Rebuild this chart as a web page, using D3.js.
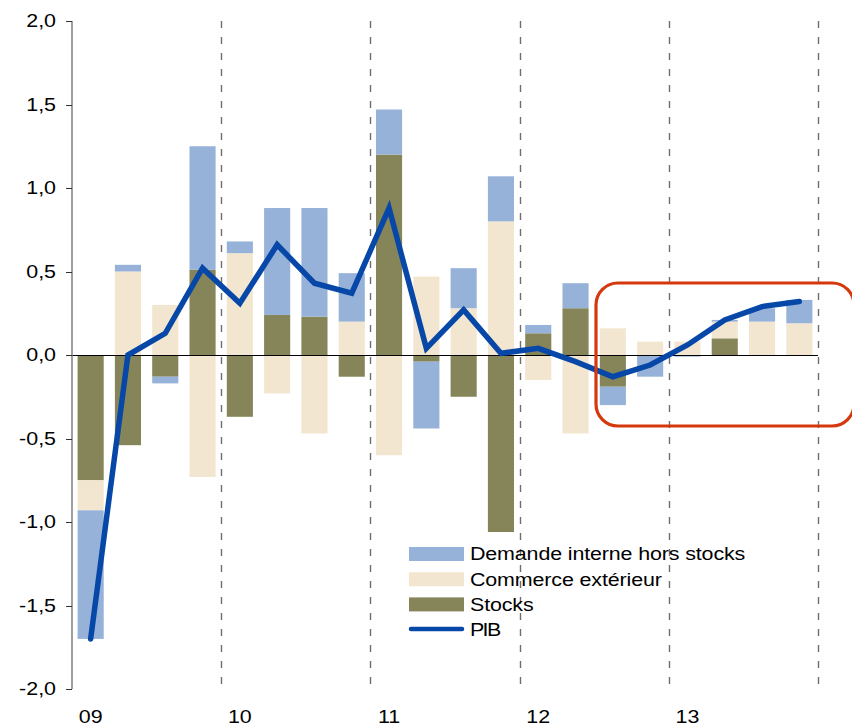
<!DOCTYPE html>
<html>
<head>
<meta charset="utf-8">
<script src="https://cdn.jsdelivr.net/npm/d3@7"></script>
<style>
  html, body { margin: 0; padding: 0; background: #fff; }
  svg { display: block; }
  text { font-family: "Liberation Sans", Arial, sans-serif; fill: #000; }
</style>
</head>
<body>
<svg id="chart" width="852" height="728"></svg>
<script>
// ---- data ----
const quarters = ["09T1","09T2","09T3","09T4","10T1","10T2","10T3","10T4","11T1","11T2","11T3","11T4","12T1","12T2","12T3","12T4","13T1","13T2","13T3","13T4"];
const yearLabels = ["09","10","11","12","13"];
const stocks   = [-0.75, -0.54, -0.13, 0.51, -0.37, 0.24, 0.23, -0.13, 1.20, -0.04, -0.25, -1.06, 0.13, 0.28, -0.19, 0.00, 0.00, 0.10, 0.00, 0.00];
const commerce = [-0.18, 0.50, 0.30, -0.73, 0.61, -0.23, -0.47, 0.20, -0.60, 0.47, 0.28, 0.80, -0.15, -0.47, 0.16, 0.08, 0.08, 0.10, 0.20, 0.19];
const demande  = [-0.77, 0.04, -0.04, 0.74, 0.07, 0.64, 0.65, 0.29, 0.27, -0.40, 0.24, 0.27, 0.05, 0.15, -0.11, -0.13, -0.01, 0.01, 0.08, 0.14];
const pib      = [-1.70, 0.00, 0.13, 0.52, 0.31, 0.66, 0.43, 0.37, 0.88, 0.04, 0.27, 0.01, 0.04, -0.04, -0.13, -0.06, 0.06, 0.21, 0.29, 0.32];
const yTicks = [2.0, 1.5, 1.0, 0.5, 0.0, -0.5, -1.0, -1.5, -2.0];
const seriesNames = {
  demande: "Demande interne hors stocks",
  commerce: "Commerce extérieur",
  stocks: "Stocks",
  pib: "PIB"
};
const colors = { demande: "#97b2d8", commerce: "#f2e6d0", stocks: "#858559", pib: "#0747a8" };

// ---- layout ----
const svg = d3.select("#chart");
const x0 = 72, x1 = 818, yTop = 21, yBot = 689;
const FS = 18, SX = 1.19;

const x = d3.scaleBand().domain(quarters).range([x0, x1]).paddingInner(0.3).paddingOuter(0.15);
const y = d3.scaleLinear().domain([-2, 2]).range([yBot, yTop]);
const step = x.step();

const table = quarters.map((q, i) => ({ q, stocks: stocks[i], commerce: commerce[i], demande: demande[i] }));
const stack = d3.stack().keys(["stocks", "commerce", "demande"]).offset(d3.stackOffsetDiverging);
const layers = stack(table);

// bars
svg.append("g").selectAll("g").data(layers).join("g")
  .attr("fill", d => colors[d.key])
  .selectAll("rect").data(d => d).join("rect")
  .attr("x", d => x(d.data.q))
  .attr("width", x.bandwidth())
  .attr("y", d => y(Math.max(d[0], d[1])))
  .attr("height", d => Math.abs(y(d[0]) - y(d[1])));

// year dashed separators
const sepIdx = [4, 8, 12, 16, 20];
svg.append("g").selectAll("line").data(sepIdx).join("line")
  .attr("x1", i => Math.round(x0 + i * step) + 0.5)
  .attr("x2", i => Math.round(x0 + i * step) + 0.5)
  .attr("y1", yTop).attr("y2", yBot)
  .attr("stroke", "#6e6e6e").attr("stroke-width", 1.4)
  .attr("stroke-dasharray", "7,9");

// zero line
svg.append("line")
  .attr("x1", x0).attr("x2", x1)
  .attr("y1", Math.round(y(0)) + 0.5).attr("y2", Math.round(y(0)) + 0.5)
  .attr("stroke", "#000").attr("stroke-width", 1);

// y axis
const yAxis = svg.append("g");
yAxis.append("line").attr("x1", x0).attr("x2", x0).attr("y1", y(2)).attr("y2", y(-2))
  .attr("stroke", "#7f7f7f").attr("stroke-width", 1.5);
yAxis.selectAll("line.tick").data(yTicks).join("line").attr("class", "tick")
  .attr("x1", x0 - 6).attr("x2", x0)
  .attr("y1", d => Math.round(y(d)) + 0.5).attr("y2", d => Math.round(y(d)) + 0.5)
  .attr("stroke", "#333").attr("stroke-width", 1);
yAxis.selectAll("g.lab").data(yTicks).join("g").attr("class", "lab")
  .attr("transform", d => `translate(56,${y(d) + 6.3}) scale(${SX},1)`)
  .append("text").attr("text-anchor", "end").attr("font-size", FS)
  .text(d => d3.format(".1f")(d).replace(".", ",").replace("−", "-"));

// x labels (first quarter of each year)
svg.append("g").selectAll("g").data(yearLabels).join("g")
  .attr("transform", (d, i) => `translate(${x(quarters[i * 4]) + x.bandwidth() / 2},723) scale(${SX},1)`)
  .append("text").attr("text-anchor", "middle").attr("font-size", FS).text(d => d);

// PIB line
const line = d3.line().x((d, i) => x(quarters[i]) + x.bandwidth() / 2).y(d => y(d));
svg.append("path").datum(pib)
  .attr("d", line).attr("fill", "none")
  .attr("stroke", colors.pib).attr("stroke-width", 5.5)
  .attr("stroke-linejoin", "miter").attr("stroke-linecap", "round");

// legend
const legendItems = ["demande", "commerce", "stocks", "pib"];
const lg = svg.append("g");
legendItems.forEach((k, i) => {
  const cy = 554 + i * 25.2;
  if (k === "pib") {
    lg.append("line").attr("x1", 411).attr("x2", 462).attr("y1", cy - 0.5).attr("y2", cy - 0.5)
      .attr("stroke", colors.pib).attr("stroke-width", 4.5).attr("stroke-linecap", "round");
  } else {
    lg.append("rect").attr("x", 409).attr("y", cy - 7).attr("width", 55).attr("height", 14).attr("fill", colors[k]);
  }
  lg.append("g").attr("transform", `translate(470,${cy + 6.3}) scale(${SX},1)`)
    .append("text").attr("font-size", FS).attr("letter-spacing", k === "pib" ? -1.4 : -0.1).text(seriesNames[k]);
});

// red highlight box
svg.append("rect")
  .attr("x", 596).attr("y", 283).attr("width", 258).attr("height", 143)
  .attr("rx", 22).attr("ry", 22)
  .attr("fill", "none").attr("stroke", "#d4380c").attr("stroke-width", 3.2);
</script>
</body>
</html>
